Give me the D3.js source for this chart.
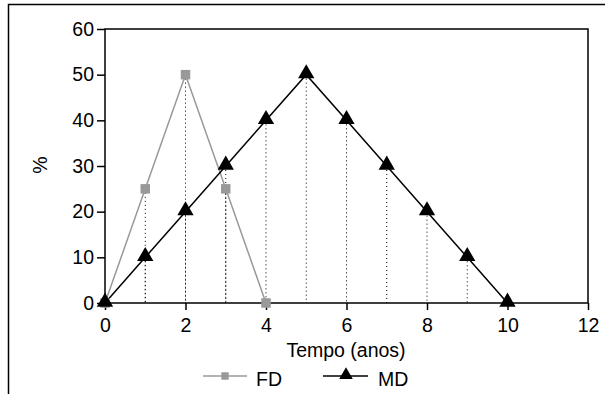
<!DOCTYPE html>
<html>
<head>
<meta charset="utf-8">
<script src="https://cdn.jsdelivr.net/npm/d3@7"></script>
<style>
  body { margin: 0; background: #fff; }
  text { font-family: "Liberation Sans", Arial, sans-serif; fill: #000; }
</style>
</head>
<body>
<svg id="chart" width="605" height="394"></svg>
<script>
// dados
const fdTempo = [0, 1, 2, 3, 4];
const fdValores = [0, 25, 50, 25, 0];
const mdTempo = [0, 1, 2, 3, 4, 5, 6, 7, 8, 9, 10];
const mdValores = [0, 10, 20, 30, 40, 50, 40, 30, 20, 10, 0];
const xTicks = [0, 2, 4, 6, 8, 10, 12];
const yTicks = [0, 10, 20, 30, 40, 50, 60];

const svg = d3.select("#chart");
const margin = { left: 105, top: 29, right: 17, bottom: 91 };
const width = 605, height = 394;
const fs = "19.5px";

// moldura externa
svg.append("rect")
  .attr("x", 8.5).attr("y", 4.5)
  .attr("width", 700).attr("height", 500)
  .attr("fill", "none").attr("stroke", "#000").attr("stroke-width", 1.5);

const x = d3.scaleLinear().domain([0, 12]).range([margin.left, width - margin.right]);
const y = d3.scaleLinear().domain([0, 60]).range([height - margin.bottom, margin.top]);

const fd = fdTempo.map((t, i) => ({ t, v: fdValores[i] }));
const md = mdTempo.map((t, i) => ({ t, v: mdValores[i] }));

// linhas pontilhadas verticais
const drops = [...fd, ...md].filter(d => d.v > 0);
svg.append("g").selectAll("line")
  .data(drops)
  .enter().append("line")
  .attr("x1", d => x(d.t)).attr("x2", d => x(d.t))
  .attr("y1", d => y(d.v)).attr("y2", y(0))
  .attr("stroke", "#000").attr("stroke-width", 1)
  .attr("stroke-dasharray", "1,3");

// caixa do gráfico
svg.append("rect")
  .attr("x", x(0)).attr("y", y(60))
  .attr("width", x(12) - x(0)).attr("height", y(0) - y(60))
  .attr("fill", "none").attr("stroke", "#000").attr("stroke-width", 1.5);

const xAxis = svg.append("g")
  .attr("transform", `translate(0,${y(0)})`)
  .call(d3.axisBottom(x).tickValues(xTicks).tickSize(7).tickPadding(8));
const yAxis = svg.append("g")
  .attr("transform", `translate(${x(0)},0)`)
  .call(d3.axisLeft(y).tickValues(yTicks).tickSize(8).tickPadding(3));
[xAxis, yAxis].forEach(a => {
  a.select(".domain").remove();
  a.selectAll("line").attr("stroke", "#000").attr("stroke-width", 1.5);
  a.selectAll("text").style("font-size", fs).attr("fill", "#000")
    .style("font-family", "Liberation Sans, Arial, sans-serif");
});

const line = d3.line().x(d => x(d.t)).y(d => y(d.v));

svg.append("path").datum(fd).attr("d", line)
  .attr("fill", "none").attr("stroke", "#999").attr("stroke-width", 1.5);
svg.append("path").datum(md).attr("d", line)
  .attr("fill", "none").attr("stroke", "#000").attr("stroke-width", 1.5);

const sq = d3.symbol().type(d3.symbolSquare).size(90);
const sqLeg = d3.symbol().type(d3.symbolSquare).size(55);
const tri = d3.symbol().type(d3.symbolTriangle).size(115);
const triLeg = d3.symbol().type(d3.symbolTriangle).size(80);

svg.append("g").selectAll("path")
  .data(fd).enter().append("path")
  .attr("d", sq).attr("transform", d => `translate(${x(d.t)},${y(d.v)})`)
  .attr("fill", "#999");
svg.append("g").selectAll("path")
  .data(md).enter().append("path")
  .attr("d", tri).attr("transform", d => `translate(${x(d.t)},${y(d.v) - 1})`)
  .attr("fill", "#000");

// títulos dos eixos
svg.append("text")
  .attr("x", 346).attr("y", 357)
  .attr("text-anchor", "middle").style("font-size", fs)
  .text("Tempo (anos)");
svg.append("text")
  .attr("transform", "translate(47,165) rotate(-90)")
  .attr("text-anchor", "middle").style("font-size", fs)
  .text("%");

// legenda
const leg = svg.append("g");
leg.append("line").attr("x1", 203).attr("x2", 247).attr("y1", 376).attr("y2", 376)
  .attr("stroke", "#999").attr("stroke-width", 1.5);
leg.append("path").attr("d", sqLeg).attr("transform", "translate(225,376)").attr("fill", "#999");
leg.append("text").attr("x", 256).attr("y", 386).style("font-size", fs).text("FD");
leg.append("line").attr("x1", 323).attr("x2", 368).attr("y1", 376).attr("y2", 376)
  .attr("stroke", "#000").attr("stroke-width", 1.5);
leg.append("path").attr("d", triLeg).attr("transform", "translate(346,375)").attr("fill", "#000");
leg.append("text").attr("x", 378).attr("y", 386).style("font-size", fs).text("MD");
</script>
</body>
</html>
